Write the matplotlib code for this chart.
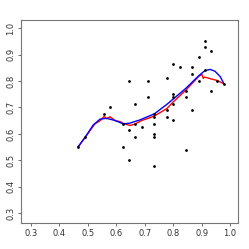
import matplotlib
matplotlib.use("Agg")
import matplotlib.pyplot as plt

pts_x = [0.467, 0.491, 0.557, 0.578, 0.622, 0.625, 0.645, 0.645, 0.645, 0.667, 0.667, 0.667,
         0.690, 0.712, 0.712, 0.734, 0.734, 0.734, 0.734, 0.734, 0.734, 0.778, 0.778, 0.778,
         0.799, 0.799, 0.799, 0.799, 0.799, 0.823, 0.844, 0.844, 0.844, 0.867, 0.867, 0.867,
         0.890, 0.890, 0.911, 0.911, 0.911, 0.933, 0.933, 0.955, 0.979]
pts_y = [0.552, 0.590, 0.676, 0.701, 0.551, 0.638, 0.802, 0.614, 0.502, 0.714, 0.637, 0.590,
         0.627, 0.802, 0.739, 0.675, 0.665, 0.638, 0.601, 0.590, 0.477, 0.813, 0.689, 0.665,
         0.864, 0.752, 0.739, 0.714, 0.652, 0.852, 0.764, 0.739, 0.540, 0.852, 0.827, 0.689,
         0.889, 0.802, 0.952, 0.927, 0.840, 0.914, 0.764, 0.802, 0.789]

blue_x = [0.4665, 0.491, 0.519, 0.543, 0.566, 0.595, 0.625, 0.648, 0.683, 0.734, 0.778,
          0.799, 0.844, 0.890, 0.911, 0.930, 0.947, 0.965, 0.979]
blue_y = [0.552, 0.588, 0.634, 0.656, 0.659, 0.651, 0.638, 0.641, 0.653, 0.676, 0.712,
          0.731, 0.772, 0.820, 0.839, 0.844, 0.837, 0.817, 0.789]

red_x = [0.4665, 0.491, 0.525, 0.543, 0.557, 0.566, 0.578, 0.595, 0.615, 0.622, 0.648,
         0.667, 0.690, 0.712, 0.734, 0.778, 0.799, 0.844, 0.890, 0.901, 0.906, 0.911,
         0.933, 0.955, 0.979]
red_y = [0.552, 0.588, 0.638, 0.650, 0.666, 0.658, 0.665, 0.651, 0.646, 0.641, 0.632,
         0.638, 0.651, 0.659, 0.668, 0.696, 0.720, 0.765, 0.818, 0.825, 0.810, 0.815,
         0.808, 0.802, 0.789]

ticks = [0.3, 0.4, 0.5, 0.6, 0.7, 0.8, 0.9, 1.0]
tick_labels = ["0.3", "0.4", "0.5", "0.6", "0.7", "0.8", "0.9", "1.0"]

fig = plt.figure(figsize=(2.49, 2.49), dpi=100)
ax = fig.add_axes([0.083, 0.104, 0.873, 0.816])
ax.plot(red_x, red_y, color="#ff0000", lw=1.0, zorder=2)
ax.plot(blue_x, blue_y, color="#0000ff", lw=1.0, zorder=3)
ax.plot(pts_x, pts_y, "o", color="black", ms=2.0, mew=0, zorder=4)

ax.set_xlim(0.264, 1.028)
ax.set_ylim(0.263, 1.031)
ax.set_xticks(ticks)
ax.set_xticklabels(tick_labels)
ax.set_yticks(ticks)
ax.set_yticklabels(tick_labels, rotation=90, va="center")
ax.tick_params(labelsize=6, length=2.5, width=0.6, colors="#555555", labelcolor="#333333", pad=1.5)
for s in ax.spines.values():
    s.set_color("#777777")
    s.set_linewidth(0.8)

fig.savefig("out.png", dpi=100)
